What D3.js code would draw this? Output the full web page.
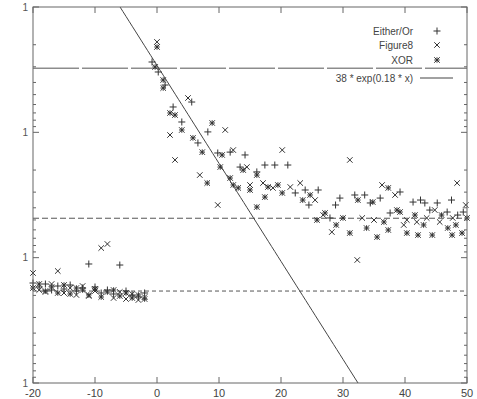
<!DOCTYPE html>
<html>
<head>
<meta charset="utf-8">
<script src="https://cdn.jsdelivr.net/npm/d3@7"></script>
<style>
  body { margin: 0; background: #fff; }
  svg { font-family: "Liberation Sans", Arial, sans-serif; }
</style>
</head>
<body>
<div class="vis-holder"></div>
<script>
// axis ticks
var xTicks = [-20, -10, 0, 10, 20, 30, 40, 50];
var yDecades = [13, 130, 1300, 13000];
var yTickLabels = ["1", "1", "1", "1"];

// horizontal reference levels
var levelValues = [40, 630, 2400];

// fitted curve and legend texts
var fitA = 38, fitK = 0.18;
var seriesNames = ["Either/Or", "Figure8", "XOR"];
var fitLabel = "38 * exp(0.18 * x)";

// Either/Or (+)
var eitherX = [-20,-19,-18,-17,-16,-15,-14,-13,-12,-11,-10,-9,-8,-7,-6,-5,-4,-3,-2,
  -0.8,0.2,1.3,2.6,4,5.6,6.6,8.2,9.8,11.8,13.4,14.2,16.1,17.4,19,21.1,22.3,23.9,26,27.9,
  29.5,31.9,34.4,36,37.6,39.2,41.3,43.2,45.2,46.8,48.5,49.4,
  24.5,28.8,33.5,42.5,44,47.5];
var eitherY = [2071,2229,2109,2355,2188,2312,2148,2399,2270,1460,2229,2488,2355,2534,1488,2399,2581,2678,2488,
  35.7,42.9,54.5,81.6,107.5,74.5,158,129,190,187,246,197,269,237,237,237,396,375,375,627,
  435,411,476,435,572,389,468,476,476,562,594,562,
  494,494,411,451,542,451];

// Figure8 (x)
var fig8X = [-20,-19,-18,-17,-16,-15,-14,-13,-12,-11,-10,-9,-8,-7,-6,-5,-4,-3,-2,
  0,2.1,2.9,5,6.9,9.8,11,12.3,14.5,15,17.1,18.7,20.2,21.5,23.1,25.5,28.2,31.1,32.3,33.1,
  36.3,38.4,40.3,41.9,43.5,45.6,47.7,48.4,
  26.8,35,39.8,44.8,49.8];
var fig8Y = [1723,2355,2443,2109,1661,2488,2270,2581,2188,2629,2399,1089,1011,2728,2443,2779,2534,2831,2678,
  24.7,136.5,216,69.2,285,494,124.5,180,246,342,330,361,180,355,330,451,812,216,1357,627,
  342,411,651,675,627,675,627,330,
  594,651,713,542,494];

// XOR (*)
var xorX = [-20,-19,-18,-17,-16,-15,-14,-13,-12,-11,-10,-9,-8,-7,-6,-5,-4,-3,-2,
  0,-0.3,1,1,2.1,2.9,4,5.8,7.3,8.1,8.9,10.2,10.5,11.8,12.3,13.1,13.9,15,16.1,16.1,17.4,17.9,
  19.5,20.2,23.5,24.7,27.1,30,31.1,32.4,34.8,35.5,37.3,37.3,38.7,39.2,40.3,41.6,42.1,44.4,
  46.9,47.6,49.2,
  25.8,28.9,33.8,36.6,43,45.9,48.2,50];
var xorY = [2270,2109,2399,2229,2488,2148,2534,2270,2355,2581,2312,2678,2443,2355,2629,2488,2728,2581,2779,
  27.1,39.1,49.7,57.6,91.1,94.6,124.5,144,187,330,109.5,246,197,301,342,361,260,375,285,513,427,355,
  342,396,451,411,572,627,827,451,468,890,782,361,542,562,827,594,858,858,
  754,858,827,
  651,713,754,675,713,594,713,627];

var width = 477, height = 399;
var margin = { top: 7, right: 10, bottom: 16, left: 33 };
var ink = "#333";

var svg = d3.select(".vis-holder").append("svg")
  .attr("width", width).attr("height", height);

var xScale = d3.scaleLinear().domain([-20, 50]).range([margin.left, width - margin.right]);
var yScale = d3.scaleLog().domain([yDecades[0], yDecades[yDecades.length - 1]])
  .range([margin.top, height - margin.bottom]);

var x0 = xScale.range()[0], x1 = xScale.range()[1];
var y0 = yScale.range()[0], y1 = yScale.range()[1];

svg.append("clipPath").attr("id", "plot")
  .append("rect").attr("x", x0).attr("y", y0).attr("width", x1 - x0).attr("height", y1 - y0);

// gnuplot-like point types
var plusType = { draw: function(c, s) { var h = Math.sqrt(s) / 2;
  c.moveTo(-h, 0); c.lineTo(h, 0); c.moveTo(0, -h); c.lineTo(0, h); } };
var crossType = { draw: function(c, s) { var h = Math.sqrt(s) / 2;
  c.moveTo(-h, -h); c.lineTo(h, h); c.moveTo(-h, h); c.lineTo(h, -h); } };
var starType = { draw: function(c, s) { var h = Math.sqrt(s) / 2;
  c.moveTo(-h, 0); c.lineTo(h, 0); c.moveTo(0, -h); c.lineTo(0, h);
  c.moveTo(-h, -h); c.lineTo(h, h); c.moveTo(-h, h); c.lineTo(h, -h); } };

// reference levels
var dashes = ["46,3", "6,3", "4,3"];
svg.selectAll(".level").data(levelValues).enter().append("line")
  .attr("class", "level")
  .attr("x1", x0).attr("x2", x1)
  .attr("y1", function(d) { return yScale(d); })
  .attr("y2", function(d) { return yScale(d); })
  .attr("stroke", "#555").attr("stroke-width", 1)
  .attr("stroke-dasharray", function(d, i) { return dashes[i]; });

// fitted curve
var fitXs = d3.range(-20, 50.01, 0.5);
var line = d3.line()
  .x(function(d) { return xScale(d); })
  .y(function(d) { return yScale(fitA * Math.exp(fitK * d)); });
svg.append("path").attr("d", line(fitXs))
  .attr("clip-path", "url(#plot)")
  .attr("fill", "none").attr("stroke", "#444").attr("stroke-width", 1);

// points
function drawSeries(xs, ys, type, size) {
  var pts = xs.map(function(x, i) { return [x, ys[i]]; });
  svg.append("g").selectAll("path").data(pts).enter().append("path")
    .attr("transform", function(d) { return "translate(" + xScale(d[0]) + "," + yScale(d[1]) + ")"; })
    .attr("d", d3.symbol().type(type).size(size))
    .attr("fill", "none").attr("stroke", ink).attr("stroke-width", 1);
}
drawSeries(eitherX, eitherY, plusType, 49);
drawSeries(fig8X, fig8Y, crossType, 30);
drawSeries(xorX, xorY, starType, 30);

// frame
svg.append("rect").attr("x", x0).attr("y", y0)
  .attr("width", x1 - x0).attr("height", y1 - y0)
  .attr("fill", "none").attr("stroke", "#666").attr("stroke-width", 1);

// x ticks (bottom and top, inward)
var tk = svg.append("g").attr("stroke", "#666").attr("stroke-width", 1);
xTicks.forEach(function(t) {
  var px = xScale(t);
  tk.append("line").attr("x1", px).attr("x2", px).attr("y1", y1).attr("y2", y1 - 6);
  tk.append("line").attr("x1", px).attr("x2", px).attr("y1", y0).attr("y2", y0 + 6);
});
// y ticks, major and minor on both sides
yDecades.forEach(function(d, i) {
  var py = yScale(d);
  tk.append("line").attr("x1", x0).attr("x2", x0 + 6).attr("y1", py).attr("y2", py);
  tk.append("line").attr("x1", x1).attr("x2", x1 - 6).attr("y1", py).attr("y2", py);
  if (i < yDecades.length - 1) {
    for (var k = 2; k <= 9; k++) {
      var pm = yScale(d * k);
      tk.append("line").attr("x1", x0).attr("x2", x0 + 3).attr("y1", pm).attr("y2", pm);
      tk.append("line").attr("x1", x1).attr("x2", x1 - 3).attr("y1", pm).attr("y2", pm);
    }
  }
});

// tick labels
svg.append("g").selectAll("text").data(xTicks).enter().append("text")
  .attr("x", function(d) { return xScale(d); }).attr("y", 397)
  .attr("text-anchor", "middle").attr("font-size", 11).attr("fill", "#444")
  .text(function(d) { return d; });
svg.append("g").selectAll("text").data(yDecades).enter().append("text")
  .attr("x", 28).attr("y", function(d) { return yScale(d); }).attr("dy", "0.35em")
  .attr("text-anchor", "end").attr("font-size", 10).attr("fill", "#555")
  .text(function(d, i) { return yTickLabels[i]; });

// legend
var legY = [31, 45, 60, 78];
var legTypes = [plusType, crossType, starType];
var legSizes = [49, 30, 30];
seriesNames.concat([fitLabel]).forEach(function(name, i) {
  svg.append("text").attr("x", 413).attr("y", legY[i]).attr("dy", "0.35em")
    .attr("text-anchor", "end").attr("font-size", 10).attr("fill", "#444").text(name);
  if (i < 3) {
    svg.append("path").attr("transform", "translate(437," + legY[i] + ")")
      .attr("d", d3.symbol().type(legTypes[i]).size(legSizes[i]))
      .attr("fill", "none").attr("stroke", ink).attr("stroke-width", 1);
  } else {
    svg.append("line").attr("x1", 420).attr("x2", 453).attr("y1", legY[i]).attr("y2", legY[i])
      .attr("stroke", "#444").attr("stroke-width", 1);
  }
});
</script>
</body>
</html>
